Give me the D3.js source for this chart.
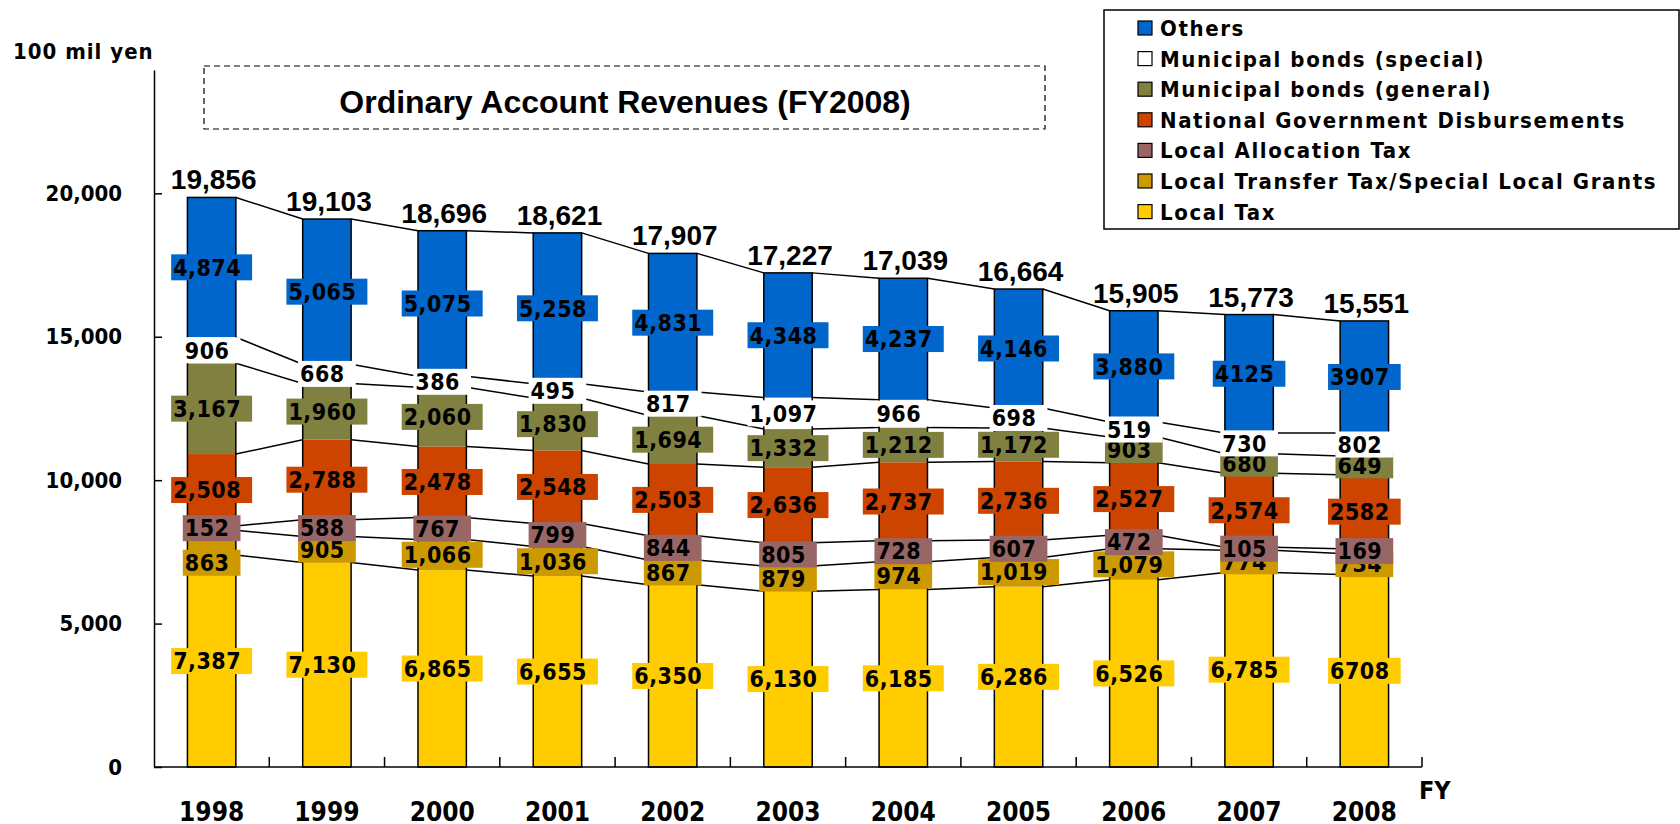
<!DOCTYPE html>
<html>
<head>
<meta charset="utf-8">
<script src="https://cdn.jsdelivr.net/npm/d3@7"></script>
<style>
  body { margin: 0; background: #fff; }
  svg { display: block; }
  .gothic { font-family: "DejaVu Sans Condensed", "DejaVu Sans", sans-serif; font-weight: bold; }
  .arial { font-family: "Liberation Sans", Arial, sans-serif; font-weight: bold; }
</style>
</head>
<body>
<svg width="1680" height="824"></svg>
<script>
// FY 1998 - 2008, 100 mil yen
const years = ["1998", "1999", "2000", "2001", "2002", "2003", "2004", "2005", "2006", "2007", "2008"];

// series, stacked from the bottom up
const seriesNames = [
    "Local Tax",
    "Local Transfer Tax/Special Local Grants",
    "Local Allocation Tax",
    "National Government Disbursements",
    "Municipal bonds (general)",
    "Municipal bonds (special)",
    "Others"
];
const seriesColors = ["#ffcc00", "#cc9900", "#996666", "#cc4400", "#808040", "#ffffff", "#0066cc"];

const localTax     = [7387, 7130, 6865, 6655, 6350, 6130, 6185, 6286, 6526, 6785, 6708];
const transferTax  = [863, 905, 1066, 1036, 867, 879, 974, 1019, 1079, 774, 734];
const allocTax     = [152, 588, 767, 799, 844, 805, 728, 607, 472, 105, 169];
const nationalGov  = [2508, 2788, 2478, 2548, 2503, 2636, 2737, 2736, 2527, 2574, 2582];
const bondsGeneral = [3167, 1960, 2060, 1830, 1694, 1332, 1212, 1172, 903, 680, 649];
const bondsSpecial = [906, 668, 386, 495, 817, 1097, 966, 698, 519, 730, 802];
const others       = [4874, 5065, 5075, 5258, 4831, 4348, 4237, 4146, 3880, 4125, 3907];
const totals       = [19856, 19103, 18696, 18621, 17907, 17227, 17039, 16664, 15905, 15773, 15551];

const yTicks = [0, 5000, 10000, 15000, 20000];

const seriesValues = [localTax, transferTax, allocTax, nationalGov, bondsGeneral, bondsSpecial, others];

const svg = d3.select("svg");

const x = d3.scaleBand().domain(years).range([154, 1422]).paddingInner(0.58).paddingOuter(0.29);
const y = d3.scaleLinear().domain([0, 24300]).range([767, 70]);
const bw = x.bandwidth();

// stacked table
const table = years.map((yr, i) => {
    const row = { year: yr };
    seriesNames.forEach((s, k) => row[s] = seriesValues[k][i]);
    return row;
});
const stacked = d3.stack().keys(seriesNames)(table);

// bars
const barG = svg.append("g");
stacked.forEach((layer, k) => {
    barG.selectAll(null)
        .data(layer)
        .enter()
        .append("rect")
        .attr("x", d => x(d.data.year))
        .attr("y", d => y(d[1]))
        .attr("width", bw)
        .attr("height", d => y(d[0]) - y(d[1]))
        .attr("fill", seriesColors[k]);
});
const topLayer = stacked[stacked.length - 1];
barG.selectAll(".outline")
    .data(topLayer)
    .enter()
    .append("rect")
    .attr("class", "outline")
    .attr("x", d => x(d.data.year))
    .attr("y", d => y(d[1]))
    .attr("width", bw)
    .attr("height", d => y(0) - y(d[1]))
    .attr("fill", "none")
    .attr("stroke", "#000")
    .attr("stroke-width", 1.5);

// connector lines between bars at each stack boundary
const lineG = svg.append("g");
stacked.forEach(layer => {
    for (let i = 0; i < layer.length - 1; i++) {
        lineG.append("line")
            .attr("x1", x(years[i]) + bw)
            .attr("y1", y(layer[i][1]))
            .attr("x2", x(years[i + 1]))
            .attr("y2", y(layer[i + 1][1]))
            .attr("stroke", "#000")
            .attr("stroke-width", 1.5);
    }
});

// axes
const yAxis = svg.append("g")
    .attr("transform", "translate(154,0)")
    .call(d3.axisLeft(y).tickValues(yTicks).tickSizeInner(-8).tickSizeOuter(0).tickPadding(32)
        .tickFormat(d3.format(",")));
yAxis.select(".domain").attr("stroke-width", 1.5);
yAxis.selectAll(".tick line").attr("stroke-width", 1.5);
yAxis.selectAll("text").attr("class", "gothic").attr("font-size", 22).attr("fill", "#000");

const xAxis = svg.append("g").attr("transform", `translate(0,${y(0)})`);
xAxis.append("line")
    .attr("x1", 154).attr("x2", 1422)
    .attr("stroke", "#000").attr("stroke-width", 1.5);
const bounds = years.map(d => x(d) - (x.step() - bw) / 2).concat([1422]);
xAxis.selectAll(".bt")
    .data(bounds.slice(1))
    .enter()
    .append("line")
    .attr("x1", d => d).attr("x2", d => d)
    .attr("y1", 0).attr("y2", -10)
    .attr("stroke", "#000").attr("stroke-width", 1.5);
xAxis.selectAll(".yl")
    .data(years)
    .enter()
    .append("text")
    .attr("class", "gothic")
    .attr("x", d => x(d) + bw / 2)
    .attr("y", 54)
    .attr("text-anchor", "middle")
    .attr("font-size", 26)
    .text(d => d);
svg.append("text")
    .attr("class", "gothic")
    .attr("x", 1419).attr("y", 799)
    .attr("font-size", 25)
    .attr("font-weight", "normal")
    .text("FY");

svg.append("text")
    .attr("class", "gothic")
    .attr("x", 13).attr("y", 59)
    .attr("font-size", 22)
    .attr("letter-spacing", 1)
    .text("100 mil yen");

// segment value labels (the 1998 transfer label sits lower so it clears the one above)
const fmt = d3.format(",");
const nudge = { "1998|1": 20 };
const labelG = svg.append("g");
stacked.forEach((layer, k) => {
    layer.forEach(d => {
        const v = d[1] - d[0];
        const cx = x(d.data.year) + bw / 2;
        const cy = y((d[0] + d[1]) / 2) + (nudge[d.data.year + "|" + k] || 0);
        const txt = (d.data.year === "2008" || (d.data.year === "2007" && k === 6)) ? String(v) : fmt(v);
        const g = labelG.append("g");
        const rect = g.append("rect").attr("fill", seriesColors[k]);
        const t = g.append("text")
            .attr("class", "gothic")
            .attr("font-size", 23)
            .attr("letter-spacing", 0.5)
            .attr("y", cy)
            .attr("dy", "0.36em")
            .text(txt);
        const w = t.node().getComputedTextLength() + 13;
        rect.attr("x", cx - w / 2).attr("y", cy - 13).attr("width", w).attr("height", 26);
        t.attr("x", cx - w / 2 + 2);
    });
});

// totals above bars
svg.selectAll(".total")
    .data(years)
    .enter()
    .append("text")
    .attr("class", "arial")
    .attr("x", d => x(d) + bw / 2 + 2)
    .attr("y", (d, i) => y(totals[i]) - 8)
    .attr("text-anchor", "middle")
    .attr("font-size", 28)
    .text((d, i) => fmt(totals[i]));

// title
svg.append("rect")
    .attr("x", 204).attr("y", 66).attr("width", 841).attr("height", 63)
    .attr("fill", "none").attr("stroke", "#000").attr("stroke-width", 1.2)
    .attr("stroke-dasharray", "6,4");
svg.append("text")
    .attr("class", "arial")
    .attr("x", 625).attr("y", 113)
    .attr("text-anchor", "middle")
    .attr("font-size", 32)
    .text("Ordinary Account Revenues (FY2008)");

// legend, top to bottom
const legend = svg.append("g");
legend.append("rect")
    .attr("x", 1104).attr("y", 10).attr("width", 575).attr("height", 219)
    .attr("fill", "#fff").attr("stroke", "#000").attr("stroke-width", 1.5);
const legendItems = seriesNames.map((s, k) => ({ name: s, color: seriesColors[k] })).reverse();
const li = legend.selectAll(".li")
    .data(legendItems)
    .enter()
    .append("g")
    .attr("transform", (d, i) => `translate(1138,${28 + i * 30.6})`);
li.append("rect")
    .attr("x", 0).attr("y", -7).attr("width", 14).attr("height", 14)
    .attr("fill", d => d.color).attr("stroke", "#000").attr("stroke-width", 1.2);
li.append("text")
    .attr("class", "gothic")
    .attr("x", 22).attr("dy", "0.36em")
    .attr("font-size", 22)
    .attr("letter-spacing", 1.6)
    .text(d => d.name);
</script>
</body>
</html>
